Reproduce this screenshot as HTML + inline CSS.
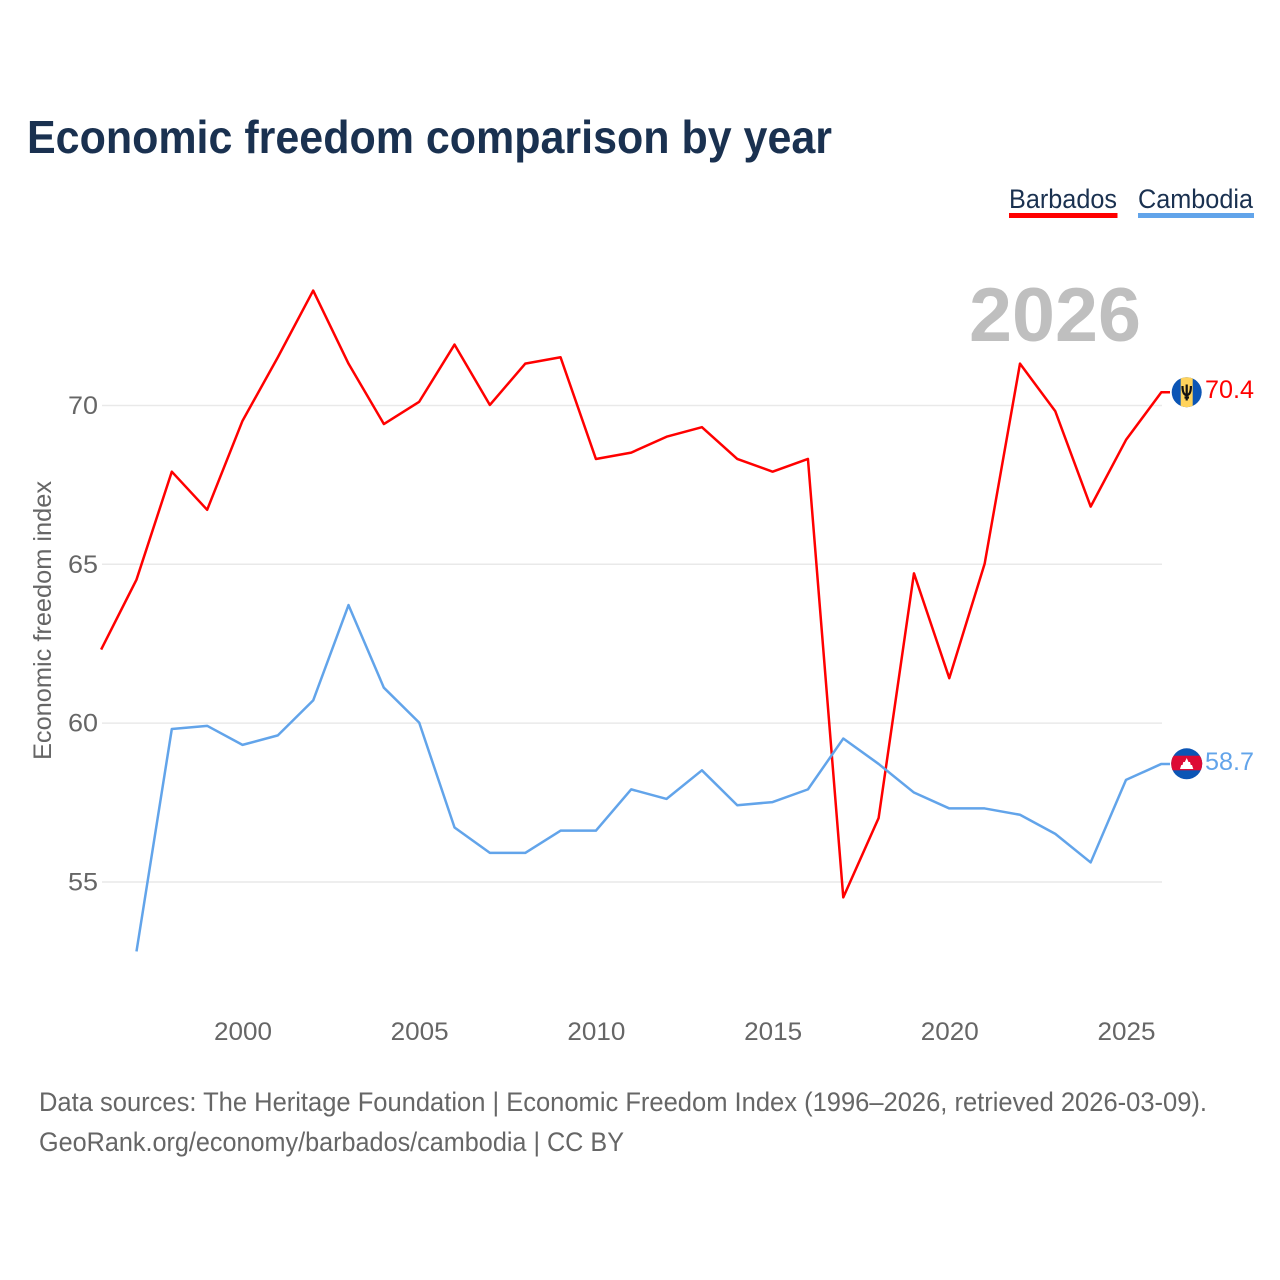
<!DOCTYPE html>
<html lang="en">
<head>
<meta charset="utf-8">
<title>Economic freedom comparison by year</title>
<style>
html,body{margin:0;padding:0;background:#fff;width:1280px;height:1280px;overflow:hidden}
svg{display:block}
text{font-family:"Liberation Sans",sans-serif}
</style>
</head>
<body>
<svg id="chart" xmlns="http://www.w3.org/2000/svg" width="1280" height="1280" viewBox="0 0 1280 1280">
  <rect x="0" y="0" width="1280" height="1280" fill="#ffffff"/>
  <text x="27" y="153" font-size="46" font-weight="700" fill="#1a3150" textLength="805" lengthAdjust="spacingAndGlyphs">Economic freedom comparison by year</text>

  <g>
    <text x="1009" y="208" font-size="27" fill="#1a3150" textLength="108" lengthAdjust="spacingAndGlyphs">Barbados</text>
    <rect x="1009" y="213" width="108.500" height="5" fill="#ff0000"/>
  </g>
  <g>
    <text x="1138" y="208" font-size="27" fill="#1a3150" textLength="115" lengthAdjust="spacingAndGlyphs">Cambodia</text>
    <rect x="1138" y="213" width="116" height="5" fill="#62a4ea"/>
  </g>

  <text x="969" y="341" font-size="76" font-weight="700" fill="#bfbfbf" textLength="172" lengthAdjust="spacingAndGlyphs">2026</text>

  <g id="grid"></g>
  <g id="y-ticks"></g>
  <g id="x-ticks"></g>

  <text transform="translate(51 760) rotate(-90)" font-size="25" fill="#666666" textLength="279" lengthAdjust="spacingAndGlyphs">Economic freedom index</text>

  <g id="series"></g>

  <g id="flag-barbados">
    <clipPath id="clip-bb"><circle cx="1186.700" cy="392.200" r="15"/></clipPath>
    <g clip-path="url(#clip-bb)">
      <rect x="1171" y="377" width="31" height="31" fill="#0b55b5"/>
      <rect x="1180.700" y="377" width="12" height="31" fill="#ffd35c"/>
    </g>
    <path d="M1186.700 384.500 L1186.700 400.500 M1182.500 386 C1182.500 392 1183.800 395 1186.700 395 C1189.600 395 1190.900 392 1190.900 386 M1184.500 397.500 L1189 397.500" fill="none" stroke="#111111" stroke-width="2.200"/>
  </g>
  <g id="flag-cambodia">
    <clipPath id="clip-kh"><circle cx="1186.700" cy="763.800" r="15.500"/></clipPath>
    <g clip-path="url(#clip-kh)">
      <rect x="1171" y="748" width="32" height="32" fill="#0b55b5"/>
      <rect x="1171" y="755.700" width="32" height="14.600" fill="#dd0a34"/>
    </g>
    <path d="M1186.700 758 L1188.500 762 L1190 762 L1190.800 765 L1192 765 L1193.300 769 L1180 769 L1181.300 765 L1182.500 765 L1183.300 762 L1184.800 762 Z" fill="#ffffff"/>
  </g>

  <g id="end-labels"></g>

  <text x="39" y="1111" font-size="27" fill="#666666" textLength="1168" lengthAdjust="spacingAndGlyphs">Data sources: The Heritage Foundation | Economic Freedom Index (1996–2026, retrieved 2026-03-09).</text>
  <text x="39" y="1151" font-size="27" fill="#666666" textLength="585" lengthAdjust="spacingAndGlyphs">GeoRank.org/economy/barbados/cambodia | CC BY</text>
</svg>
<script>
const years = [1996,1997,1998,1999,2000,2001,2002,2003,2004,2005,2006,2007,2008,2009,2010,2011,2012,2013,2014,2015,2016,2017,2018,2019,2020,2021,2022,2023,2024,2025,2026];
const barbados = [62.3,64.5,67.9,66.7,69.5,71.5,73.6,71.3,69.4,70.1,71.9,70.0,71.3,71.5,68.3,68.5,69.0,69.3,68.3,67.9,68.3,54.5,57.0,64.7,61.4,65.0,71.3,69.8,66.8,68.9,70.4];
const cambodia = [null,52.8,59.8,59.9,59.3,59.6,60.7,63.7,61.1,60.0,56.7,55.9,55.9,56.6,56.6,57.9,57.6,58.5,57.4,57.5,57.9,59.5,58.7,57.8,57.3,57.3,57.1,56.5,55.6,58.2,58.7];
const yTickValues = [55,60,65,70];
const xTickValues = [2000,2005,2010,2015,2020,2025];

const SVG_NS = 'http://www.w3.org/2000/svg';
function xScale(year){ return 242.500 + (year - 2000) * 35.34; }
function yScale(value){ return 881.500 - (value - 55) * 31.77; }

function make(tag, attrs, parentId, text){
  const el = document.createElementNS(SVG_NS, tag);
  Object.keys(attrs).forEach(function(k){ el.setAttribute(k, attrs[k]); });
  if (text !== undefined) el.textContent = text;
  document.getElementById(parentId).appendChild(el);
  return el;
}

yTickValues.forEach(function(v){
  const line = make('line', {x1:102, x2:1162, y1:yScale(v) + 0.500, y2:yScale(v) + 0.500, stroke:'#e9e9e9', 'stroke-width':1.500}, 'grid');
  
  
  const label = make('text', {x:98, y:yScale(v) + 9, 'font-size':25, fill:'#666666', 'text-anchor':'end', textLength:30, lengthAdjust:'spacingAndGlyphs'}, 'y-ticks', String(v));
  
  
});

xTickValues.forEach(function(v){
  const label = make('text', {x:xScale(v) + 0.500, y:1040, 'font-size':25, fill:'#666666', 'text-anchor':'middle', textLength:58, lengthAdjust:'spacingAndGlyphs'}, 'x-ticks', String(v));
  
  
});

function linePath(values){
  let d = '';
  let lastY = null;
  values.forEach(function(v, i){
    if (v === null) return;
    lastY = yScale(v);
    d += (d ? ' L' : 'M') + xScale(years[i]).toFixed(2) + ' ' + lastY.toFixed(2);
  });
  d += ' L1170 ' + lastY.toFixed(2);
  return d;
}

const barbadosLine = make('path', {d:linePath(barbados), fill:'none', stroke:'#ff0000', 'stroke-width':2.500, 'stroke-linejoin':'round'}, 'series');



const cambodiaLine = make('path', {d:linePath(cambodia), fill:'none', stroke:'#62a4ea', 'stroke-width':2.500, 'stroke-linejoin':'round'}, 'series');



const lastBarbados = barbados[barbados.length - 1];
const lastCambodia = cambodia[cambodia.length - 1];

const barbadosLabel = make('text', {x:1205, y:yScale(lastBarbados) + 6, 'font-size':25, fill:'#ff0000', textLength:49, lengthAdjust:'spacingAndGlyphs'}, 'end-labels', lastBarbados.toFixed(1));



const cambodiaLabel = make('text', {x:1205, y:yScale(lastCambodia) + 6, 'font-size':25, fill:'#62a4ea', textLength:49, lengthAdjust:'spacingAndGlyphs'}, 'end-labels', lastCambodia.toFixed(1));


</script>
</body>
</html>
